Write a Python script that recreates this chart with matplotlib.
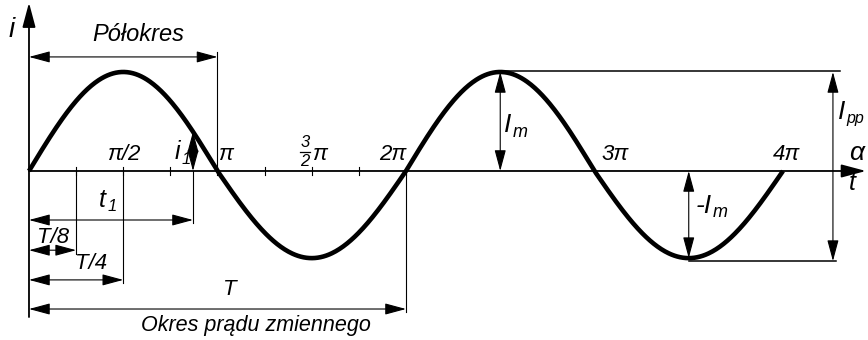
import matplotlib.pyplot as plt
import numpy as np

plt.rcParams['font.family'] = ['Liberation Sans', 'DejaVu Sans']

# angle in units of pi, current in units of Im
alpha_end = 4.0
im_pos = 1.0       # positive half-wave height
im_neg = 0.88      # negative half-wave depth (drawn a bit shallower)
t1_pos = 0.87      # position of the instant t1 / i1
tick_pos = [0.25, 0.5, 0.75, 1.0, 1.25, 1.5, 1.75, 2.0]
tick_labels = [(0.5, 'π/2'), (1.04, 'π'), (1.93, '2π'),
               (3.11, '3π'), (4.02, '4π')]
# horizontal dimension arrows below the axis: (end, y, label, label x, label y)
dims = [(0.25, -0.80, 'T/8', 0.127, -0.667),
        (0.5, -1.10, 'T/4', 0.33, -0.93),
        (2.0, -1.394, 'T', 1.066, -1.20)]

a = np.linspace(0, alpha_end, 800)
s = np.sin(np.pi * a)
i = np.where(s > 0, im_pos * s, im_neg * s)

fig = plt.figure(figsize=(8.68, 3.4), dpi=100)
ax = fig.add_axes([0, 0, 1, 1])
ax.set_xlim(-0.1538, 4.451)
ax.set_ylim(-1.707, 1.727)
ax.axis('off')

k = 'black'
thin = 0.8
arr = dict(arrowstyle='<|-|>,head_length=1.3,head_width=0.35', color=k,
           lw=thin, shrinkA=0, shrinkB=0, mutation_scale=10)
one = dict(arrowstyle='-|>,head_length=1.5,head_width=0.4', color=k,
           lw=1.3, shrinkA=0, shrinkB=0, mutation_scale=10)

fs = 16
txt = dict(fontsize=fs, style='italic', ha='center', va='center', color=k)


def sub(x, y, main, low, size=fs, low_size=None):
    # letter right-aligned at x, subscript just after it
    ax.text(x, y, main, **dict(txt, fontsize=size, ha='right'))
    ax.annotate(low, xy=(x, y), xytext=(1, -5), textcoords='offset points',
                fontsize=low_size or size * 0.72, style='italic',
                ha='left', va='center', color=k)


# axes
ax.annotate('', xy=(4.44, 0), xytext=(0, 0), arrowprops=one)
ax.annotate('', xy=(0, 1.70), xytext=(0, -1.475), arrowprops=one)
for t in tick_pos:
    ax.plot([t, t], [-0.04, 0.04], color=k, lw=thin)

# curve
ax.plot(a, i, color=k, lw=3.3, solid_capstyle='butt')

ax.text(-0.09, 1.42, 'i', **dict(txt, fontsize=20))
ax.text(4.39, 0.18, 'α', **dict(txt, fontsize=19))
ax.text(4.37, -0.12, 't', **dict(txt, fontsize=18))

for x, lab in tick_labels:
    ax.text(x, 0.17, lab, **txt)
# 3/2 pi
ax.text(1.465, 0.29, '3', **dict(txt, fontsize=12))
ax.text(1.465, 0.10, '2', **dict(txt, fontsize=12))
ax.plot([1.44, 1.49], [0.195, 0.195], color=k, lw=0.9)
ax.text(1.54, 0.17, 'π', **txt)

# half period
ax.plot([1.0, 1.0], [0, 1.20], color=k, lw=thin)
ax.annotate('', xy=(0, 1.152), xytext=(1.0, 1.152), arrowprops=arr)
ax.text(0.578, 1.374, 'Półokres', **dict(txt, fontsize=17))

# i1 and t1
i1 = im_pos * np.sin(np.pi * t1_pos)
ax.annotate('', xy=(t1_pos, 0), xytext=(t1_pos, i1), arrowprops=arr)
sub(0.80, 0.19, 'i', '1', 18, 12)
ax.plot([t1_pos, t1_pos], [0, -0.53], color=k, lw=thin)
ax.annotate('', xy=(0, -0.495), xytext=(t1_pos, -0.495), arrowprops=arr)
sub(0.41, -0.29, 't', '1', 18, 12)

# dimension lines below axis
for end, y, lab, lx, ly in dims:
    ax.plot([end, end], [0, y - 0.035], color=k, lw=thin)
    ax.annotate('', xy=(0, y), xytext=(end, y), arrowprops=arr)
    ax.text(lx, ly, lab, **txt)
ax.text(1.204, -1.556, 'Okres prądu zmiennego', **dict(txt, fontsize=15.5))

# amplitudes
ax.annotate('', xy=(2.5, 0), xytext=(2.5, im_pos), arrowprops=arr)
sub(2.56, 0.46, 'I', 'm', 19, 13)
ax.annotate('', xy=(3.5, 0), xytext=(3.5, -im_neg), arrowprops=arr)
sub(3.62, -0.35, '-I', 'm', 19, 13)
ax.plot([2.52, 4.30], [im_pos + 0.01, im_pos + 0.01], color=k, lw=1.1)
ax.plot([3.5, 4.28], [-im_neg - 0.03, -im_neg - 0.03], color=k, lw=1.1)
ax.annotate('', xy=(4.265, im_pos), xytext=(4.265, -im_neg - 0.03),
            arrowprops=arr)
sub(4.33, 0.60, 'I', 'pp', 19, 11.5)

fig.savefig('out.png', dpi=100, facecolor='white')
